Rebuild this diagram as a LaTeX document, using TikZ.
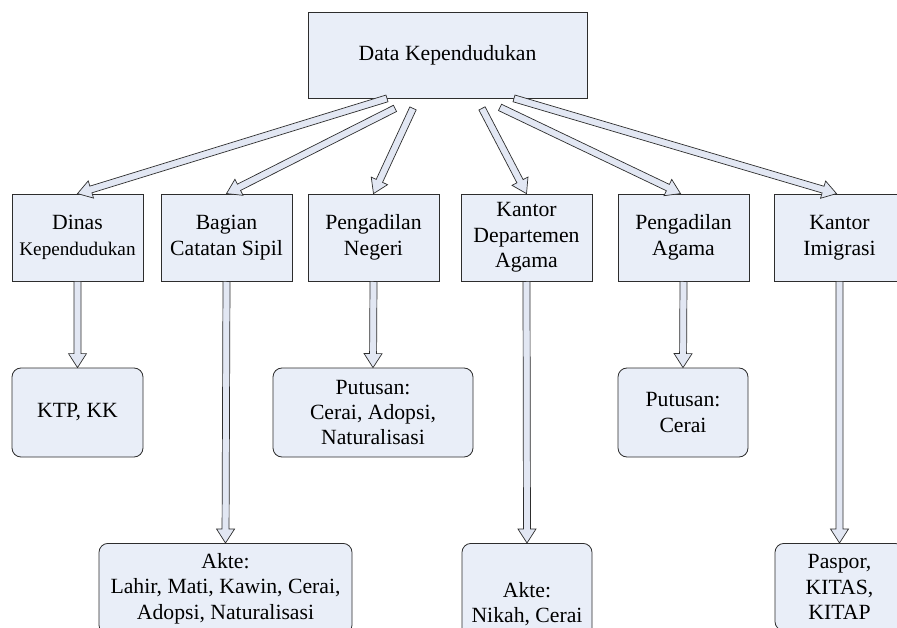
\documentclass[tikz,border=0pt]{standalone}
\usepackage{fontspec}
\setmainfont{Liberation Serif}
\usetikzlibrary{calc}
\definecolor{boxfill}{RGB}{233,238,248}
\definecolor{arrfill}{RGB}{226,231,243}
\definecolor{edge}{RGB}{45,45,45}
\newcommand\fs{\fontsize{21.7}{25.5}\selectfont}
\newcommand\fsmall{\fontsize{19.2}{25.5}\selectfont}
\newcommand\blk[2]{%
  \coordinate (blkA) at (#1);
  \coordinate (blkB) at (#2);
  \coordinate (blkM) at ($(blkB)!14pt!(blkA)$);
  \draw[arrowbody] ($(blkA)!3.5pt!90:(blkB)$) -- ($(blkM)!3.5pt!90:(blkB)$)
    -- ($(blkM)!9pt!90:(blkB)$) -- (blkB) -- ($(blkM)!9pt!-90:(blkB)$)
    -- ($(blkM)!3.5pt!-90:(blkB)$) -- ($(blkA)!3.5pt!-90:(blkB)$) -- cycle;
}
\tikzset{
  sq/.style={draw=edge, line width=0.8pt, fill=boxfill, minimum width=131pt,
    minimum height=87pt, align=center, inner sep=2pt, font=\fs, text=black},
  rnd/.style={sq, rounded corners=9pt, minimum height=89pt},
  low/.style={rnd, anchor=north, minimum height=0pt, inner xsep=2pt},
  arrowbody/.style={draw=edge, line width=0.7pt, fill=arrfill, line join=miter},
}
\begin{document}
\begin{tikzpicture}[x=1pt, y=-1pt]
\useasboundingbox (0,0) rectangle (897,628);
\clip (0,0) rectangle (897,628);
\fill[white] (0,0) rectangle (897,628);

\node[sq, minimum width=279pt, minimum height=86pt] (top) at (447.5,55) {Data Kependudukan};

\node[sq] (dinas)  at (77.5,237.5)  {Dinas\\{\fsmall Kependudukan}};
\node[sq] (bagian) at (226.5,237.5) {Bagian\\Catatan Sipil};
\node[sq] (pn)     at (373.5,237.5) {Pengadilan\\Negeri};
\node[sq] (kda)    at (526.5,237.5) {Kantor\\Departemen\\Agama};
\node[sq] (pa)     at (683.5,237.5) {Pengadilan\\Agama};
\node[sq] (ki)     at (839.5,237.5) {Kantor\\Imigrasi};

\node[rnd] (ktp) at (77.5,412.5) {KTP, KK};
\node[rnd, minimum width=200pt] (pnr) at (373,412.5) {Putusan:\\Cerai, Adopsi,\\Naturalisasi};
\node[rnd, minimum width=130pt] (par) at (683,412.5) {Putusan:\\Cerai};

\node[low, minimum width=253pt, inner ysep=10pt] (akte) at (225.5,543) {Akte:\\Lahir, Mati, Kawin, Cerai,\\Adopsi, Naturalisasi};
\node[low, minimum width=130pt, inner ysep=39pt] (nikah) at (527,543) {Akte:\\Nikah, Cerai};
\node[low, minimum width=129pt, inner ysep=11pt] (paspor) at (839.5,543) {Paspor,\\KITAS,\\KITAP};

% arrows from the top box
\coordinate (s1) at ([xshift=-60.5pt]top.south);
\coordinate (s2) at ([xshift=-52.5pt,yshift=-10pt]top.south);
\coordinate (s3) at ([xshift=-34.5pt,yshift=-10pt]top.south);
\coordinate (s4) at ([xshift=34.5pt,yshift=-10pt]top.south);
\coordinate (s5) at ([xshift=52.5pt,yshift=-9pt]top.south);
\coordinate (s6) at ([xshift=66.5pt]top.south);
\coordinate (e5) at ([xshift=-3pt]pa.north);
\coordinate (e6) at ([xshift=-3pt]ki.north);

\blk{s1}{dinas.north}
\blk{s2}{bagian.north}
\blk{s3}{pn.north}
\blk{s4}{kda.north}
\blk{s5}{e5}
\blk{s6}{e6}

% vertical arrows
\blk{dinas.south}{ktp.north}
\blk{bagian.south}{akte.north}
\blk{pn.south}{pnr.north}
\blk{kda.south}{nikah.north}
\blk{pa.south}{par.north}
\blk{ki.south}{paspor.north}
\end{tikzpicture}
\end{document}
